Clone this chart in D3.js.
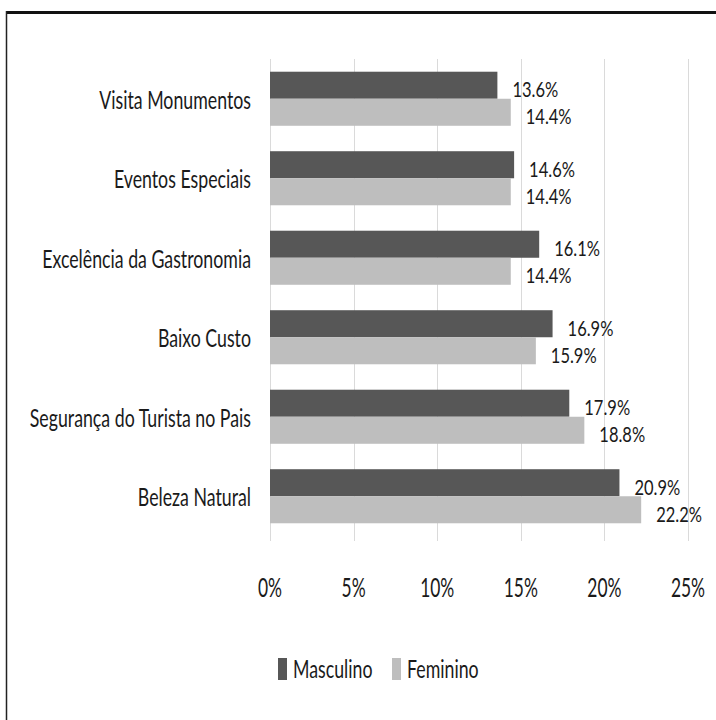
<!DOCTYPE html>
<html>
<head>
<meta charset="utf-8">
<script src="https://cdn.jsdelivr.net/npm/d3@7"></script>
<style>
  html, body { margin: 0; padding: 0; background: #ffffff; }
  svg { display: block; }
  text { font-family: Lato, "Open Sans", "Liberation Sans", sans-serif; fill: #1a1a1a; }
</style>
</head>
<body>
<svg id="chart" width="716" height="720"></svg>
<script>
// ---- data ----
const categories = [
  "Visita Monumentos",
  "Eventos Especiais",
  "Excelência da Gastronomia",
  "Baixo Custo",
  "Segurança do Turista no Pais",
  "Beleza Natural"
];
const seriesNames = ["Masculino", "Feminino"];
const masculino = [13.6, 14.6, 16.1, 16.9, 17.9, 20.9];
const feminino  = [14.4, 14.4, 14.4, 15.9, 18.8, 22.2];
const tickValues = [0, 5, 10, 15, 20, 25];
const tickLabels = ["0%", "5%", "10%", "15%", "20%", "25%"];
const colors = ["#575757", "#bebebe"];

const seriesValues = [masculino, feminino];
const rows = categories.map((c, i) => ({
  category: c,
  values: seriesNames.map((s, j) => ({ series: s, value: seriesValues[j][i] }))
}));

const svg = d3.select("#chart");

// frame
svg.append("line").attr("x1", 6).attr("x2", 716).attr("y1", 12.5).attr("y2", 12.5)
  .attr("stroke", "#111").attr("stroke-width", 3);
svg.append("line").attr("x1", 6.5).attr("x2", 6.5).attr("y1", 11).attr("y2", 720)
  .attr("stroke", "#222").attr("stroke-width", 1.5);

// scales
const x = d3.scaleLinear().domain([0, 25]).range([270, 688]);
const y = d3.scaleBand().domain(categories).range([59, 536])
  .paddingInner(0.32).paddingOuter(0.16);
const ySub = d3.scaleBand().domain(seriesNames).range([0, y.bandwidth()]);
const color = d3.scaleOrdinal().domain(seriesNames).range(colors);

// gridlines
svg.append("g").selectAll("line").data(tickValues).join("line")
  .attr("x1", d => Math.round(x(d)) + 0.5).attr("x2", d => Math.round(x(d)) + 0.5)
  .attr("y1", 59).attr("y2", 541)
  .attr("stroke", "#dadada").attr("stroke-width", 1);

// horizontally compressed text helper
function ctext(sel, sx) {
  return sel.attr("transform", function() {
    const tx = +this.getAttribute("data-x"), ty = +this.getAttribute("data-y");
    return `translate(${tx},${ty}) scale(${sx},1)`;
  });
}

// bars
const groups = svg.append("g").selectAll("g").data(rows).join("g")
  .attr("transform", d => `translate(0,${y(d.category)})`);

groups.selectAll("rect").data(d => d.values).join("rect")
  .attr("x", x(0))
  .attr("y", d => ySub(d.series))
  .attr("width", d => x(d.value) - x(0))
  .attr("height", ySub.bandwidth())
  .attr("fill", d => color(d.series));

// value labels
groups.selectAll("text.val").data(d => d.values).join("text")
  .attr("class", "val")
  .attr("data-x", d => x(d.value) + 15)
  .attr("data-y", d => ySub(d.series) + ySub.bandwidth() / 2 + 4)
  .attr("dy", "0.36em")
  .attr("font-size", 22)
  .text(d => d.value.toFixed(1) + "%")
  .call(ctext, 0.75);

// category labels
svg.append("g").selectAll("text").data(categories).join("text")
  .attr("data-x", 251)
  .attr("data-y", d => y(d) + y.bandwidth() / 2 + 1)
  .attr("dy", "0.36em")
  .attr("text-anchor", "end")
  .attr("font-size", 25)
  .text(d => d)
  .call(ctext, 0.71);

// x tick labels
svg.append("g").selectAll("text").data(tickValues).join("text")
  .attr("data-x", d => x(d))
  .attr("data-y", 588)
  .attr("dy", "0.36em")
  .attr("text-anchor", "middle")
  .attr("font-size", 26)
  .text((d, i) => tickLabels[i])
  .call(ctext, 0.67);

// legend
const legendX = [278, 392];
const legend = svg.append("g").selectAll("g").data(seriesNames).join("g")
  .attr("transform", (d, i) => `translate(${legendX[i]},658)`);
legend.append("rect").attr("width", 9).attr("height", 22).attr("fill", d => color(d));
legend.append("text")
  .attr("data-x", 15).attr("data-y", 11).attr("dy", "0.36em")
  .attr("font-size", 25)
  .text(d => d)
  .call(ctext, 0.71);
</script>
</body>
</html>
